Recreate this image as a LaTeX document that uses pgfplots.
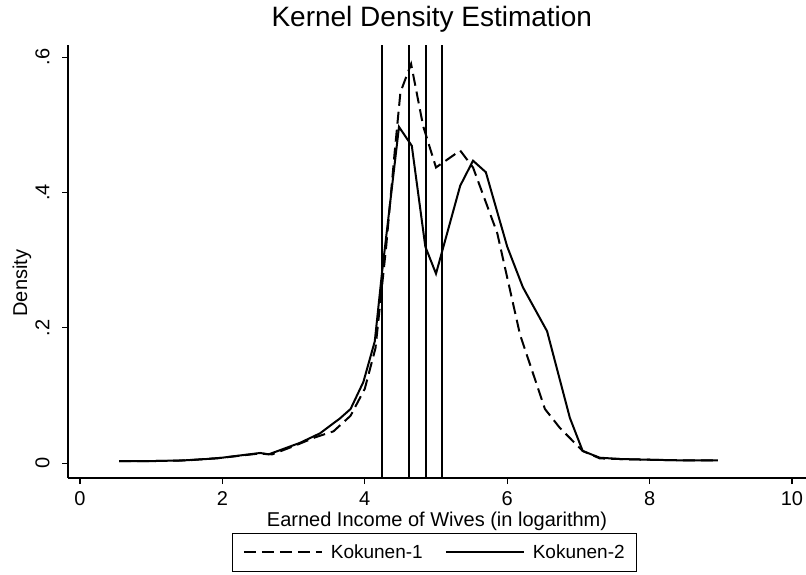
\documentclass[border=0pt]{standalone}
\usepackage{pgfplots}
\pgfplotsset{compat=1.18}
\usepackage{fontspec}
\setmainfont{Liberation Sans}
\begin{document}
\begin{tikzpicture}[x=1pt,y=1pt]
\path[use as bounding box] (-68,-96) rectangle (738,478);
\begin{axis}[
  at={(0,0)}, anchor=south west,
  scale only axis, width=738pt, height=433pt,
  xmin=-0.169, xmax=10.197, ymin=-0.022, ymax=0.618,
  axis x line*=bottom, axis y line*=left,
  axis line style={black, line width=1.3pt},
  tick align=outside, tick style={black, line width=1.1pt}, major tick length=6pt,
  xtick={0,2,4,6,8,10}, xticklabels={0,2,4,6,8,10},
  ytick={0,0.2,0.4,0.6}, yticklabels={0,.2,.4,.6},
  /pgf/number format/assume math mode=true,
  ticklabel style={font=\fontsize{20}{22}\selectfont},
  yticklabel style={rotate=90, anchor=south},
  yticklabel shift=9pt,
  xticklabel style={anchor=north},
  xticklabel shift=4pt,
  xlabel={Earned Income of Wives (in logarithm)},
  ylabel={Density},
  label style={font=\fontsize{20}{22}\selectfont},
  xlabel style={at={(axis description cs:0.5,0)}, anchor=center, yshift=-43pt},
  ylabel style={at={(axis description cs:0,0.45)}, anchor=center, yshift=46pt},
  title={Kernel Density Estimation},
  title style={at={(axis description cs:0.493,1)}, anchor=center, yshift=20pt, font=\fontsize{28}{30}\selectfont},
  legend columns=2,
  legend style={at={(0.497,-0.128)}, anchor=north, draw=black, line width=0.8pt,
    font=\fontsize{19}{21}\selectfont, inner xsep=10pt, inner ysep=9pt,
    /tikz/every odd column/.append style={column sep=6pt},
    /tikz/every even column/.append style={column sep=20pt}},
  legend image code/.code={\draw[#1] (0pt,0pt) -- (78pt,0pt);},
  clip=false,
]
\addplot[black, line width=2pt, dash pattern=on 12pt off 6pt] coordinates {
(0.55,0.003) (1.0,0.003) (1.5,0.004) (2.0,0.008) (2.5,0.014) (2.7,0.013) (3.0,0.025) (3.3,0.038) (3.56,0.047) (3.8,0.07) (4.0,0.11) (4.15,0.17) (4.3,0.32) (4.42,0.46) (4.5,0.548) (4.65,0.59) (4.82,0.498) (5.0,0.437) (5.34,0.462) (5.52,0.437) (5.86,0.34) (6.18,0.19) (6.53,0.08) (6.74,0.052) (7.06,0.018) (7.3,0.007) (7.6,0.006) (8.0,0.005) (8.5,0.004) (8.96,0.004)
};
\addlegendentry{Kokunen-1}
\addplot[black, line width=2pt] coordinates {
(0.55,0.003) (1.0,0.003) (1.45,0.004) (1.92,0.007) (2.3,0.012) (2.53,0.015) (2.65,0.013) (3.09,0.03) (3.37,0.044) (3.65,0.066) (3.8,0.08) (3.98,0.12) (4.14,0.18) (4.24,0.28) (4.48,0.497) (4.66,0.469) (4.85,0.32) (5.0,0.28) (5.34,0.41) (5.52,0.447) (5.7,0.43) (6.0,0.32) (6.22,0.26) (6.56,0.195) (6.88,0.067) (7.06,0.018) (7.3,0.008) (7.6,0.006) (8.0,0.005) (8.5,0.004) (8.96,0.004)
};
\addlegendentry{Kokunen-2}
\addplot[black, line width=1.8pt, forget plot] coordinates {(4.24,-0.022) (4.24,0.618)};
\addplot[black, line width=1.8pt, forget plot] coordinates {(4.625,-0.022) (4.625,0.618)};
\addplot[black, line width=1.8pt, forget plot] coordinates {(4.86,-0.022) (4.86,0.618)};
\addplot[black, line width=1.8pt, forget plot] coordinates {(5.08,-0.022) (5.08,0.618)};
\end{axis}
\end{tikzpicture}
\end{document}
